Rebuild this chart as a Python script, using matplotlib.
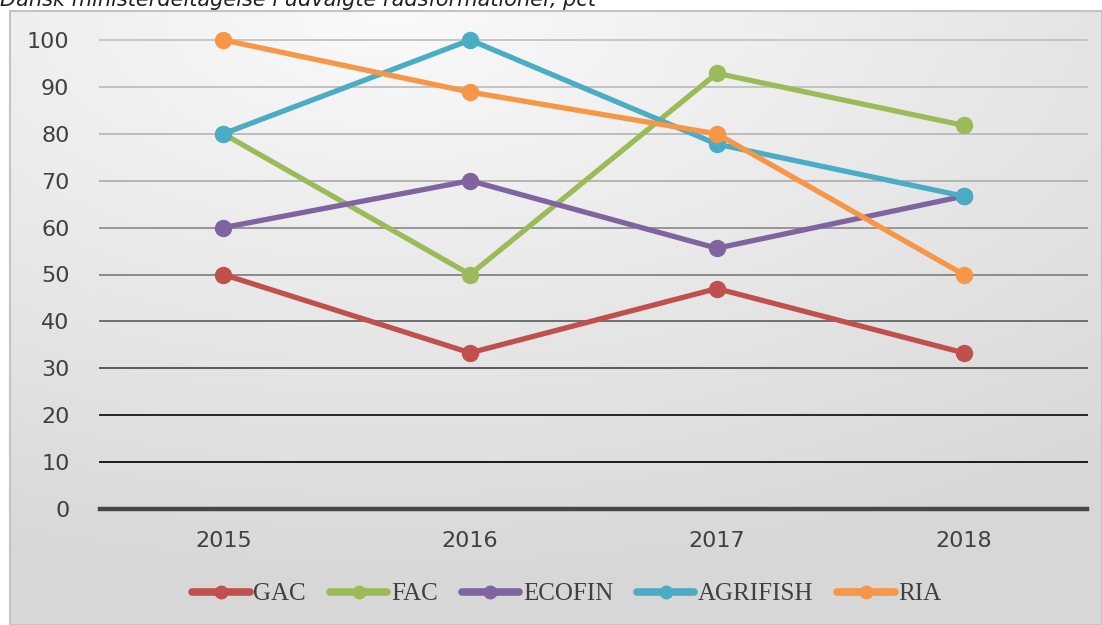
import numpy as np
import matplotlib.pyplot as plt
from matplotlib.lines import Line2D

years = ["2015", "2016", "2017", "2018"]
series_names = ["GAC", "FAC", "ECOFIN", "AGRIFISH", "RIA"]
gac = [50, 33.3, 47, 33.3]
fac = [80, 50, 92.9, 81.8]
ecofin = [60, 70, 55.6, 66.7]
agrifish = [80, 100, 77.8, 66.7]
ria = [100, 88.9, 80, 50]
yticks = [0, 10, 20, 30, 40, 50, 60, 70, 80, 90, 100]

colors = ["#c0504d", "#9bbb59", "#8064a2", "#4bacc6", "#f79646"]
grid_colors = ["#474747", "#1a1a1a", "#262626", "#5a5a5a", "#6e6e6e",
               "#8a8a8a", "#969696", "#b4b4b4", "#bcbcbc", "#c2c2c2", "#c6c6c6"]
grid_widths = [3.2, 1.4, 1.4, 1.4, 1.4, 1.4, 1.4, 1.4, 1.4, 1.4, 1.4]

fig = plt.figure(figsize=(11.02, 6.25), dpi=100)

# background: soft radial grey gradient inside a thin light border
bg = fig.add_axes([10 / 1102, 0, 1 - 10 / 1102, 1 - 11 / 625])
gx, gy = np.meshgrid(np.linspace(0, 1, 300), np.linspace(0, 1, 180))
dist = np.sqrt((gx - 0.35) ** 2 + (gy * 1.1) ** 2)
shade = np.clip(0.98 - 0.13 * dist, 0.845, 1.0)
img = np.dstack([shade, shade, shade])
bg.imshow(img, aspect="auto", extent=[0, 1, 1, 0], interpolation="bilinear")
bg.set_xlim(0, 1)
bg.set_ylim(1, 0)
bg.set_xticks([])
bg.set_yticks([])
for s in bg.spines.values():
    s.set_color("#c4c4c4")
    s.set_linewidth(1.5)

ax = fig.add_axes([100 / 1102, 1 - 509 / 625, 987 / 1102, 469 / 625])
ax.patch.set_alpha(0)
for s in ax.spines.values():
    s.set_visible(False)

for v, c, w in zip(yticks, grid_colors, grid_widths):
    ax.axhline(v, color=c, lw=w, zorder=1, clip_on=False)

x = np.arange(len(years))
data = [gac, fac, ecofin, agrifish, ria]
for vals, name, c in zip(data, series_names, colors):
    ax.plot(x, vals, color=c, lw=3.8, marker="o", ms=11.5, label=name,
            zorder=3, solid_capstyle="round", clip_on=False)

ax.set_xlim(-0.5, 3.5)
ax.set_ylim(0, 100)
ax.set_yticks(yticks)
ax.set_xticks(x)
ax.set_xticklabels(years)
ax.tick_params(axis="both", length=0, labelsize=16, labelcolor="#404040")
ax.tick_params(axis="x", pad=16)
ax.tick_params(axis="y", pad=22)

handles = [Line2D([0], [0], color=c, lw=5.5, marker="o", ms=9,
                  solid_capstyle="round") for c in colors]
fig.legend(handles, series_names, loc="center",
           bbox_to_anchor=(567 / 1102, 1 - 594 / 625),
           ncol=5, frameon=False, handlelength=2.3, handletextpad=0.15,
           columnspacing=0.95, prop={"family": "Liberation Serif", "size": 18},
           labelcolor="#404040")

fig.text(0.0, 1 - 6 / 625, "Dansk ministerdeltagelse i udvalgte rådsformationer, pct",
         fontsize=15, style="italic", va="baseline", ha="left", color="#202020")

fig.savefig("out.png", dpi=100)
